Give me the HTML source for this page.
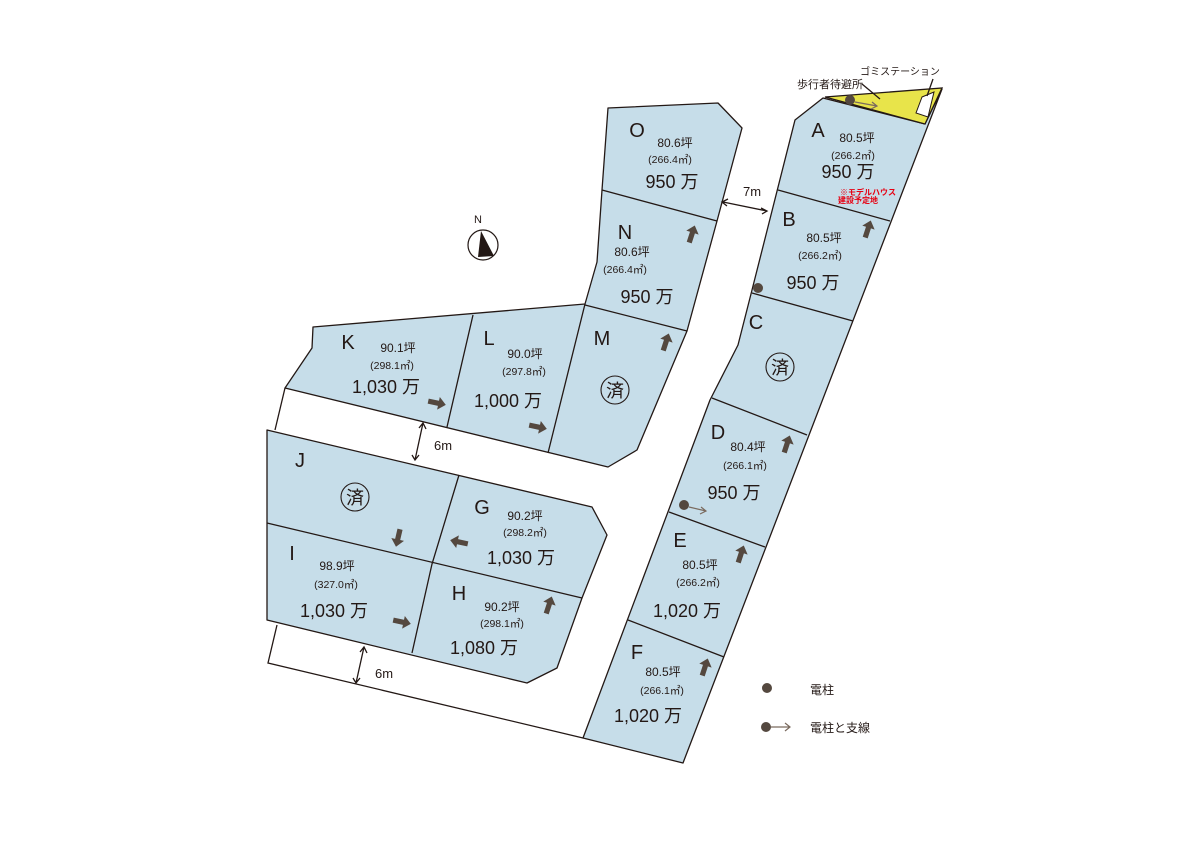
<!DOCTYPE html>
<html><head><meta charset="utf-8"><style>
html,body{margin:0;padding:0;background:#fff;}
svg{display:block;}
text{font-family:"Liberation Sans","Noto Sans CJK JP",sans-serif;fill:#231815;}
.lot{fill:#c6dde9;stroke:#231815;stroke-width:1.3;stroke-linejoin:round;}
.ln{stroke:#231815;stroke-width:1.3;fill:none;}
.L{font-size:20px;text-anchor:middle;}
.t{font-size:12px;text-anchor:middle;}
.s{font-size:10.5px;text-anchor:middle;}
.p{font-size:18px;text-anchor:middle;}
.ar{fill:#54483f;}
</style></head><body>
<svg width="1191" height="842" viewBox="0 0 1191 842" xmlns="http://www.w3.org/2000/svg">
<defs>
<path id="a" d="M-9,-2.6 L1.5,-2.6 L1.5,-6.5 L9,0 L1.5,6.5 L1.5,2.6 L-9,2.6 Z"/>
</defs>

<path class="ln" d="M285,388 L275,430"/>
<path class="ln" d="M277,625 L268,663 L583,738"/>

<path class="lot" d="M608,108 L718,103 L742,128 L717,221 L687,331 L637,450 L608,467 L285,388 L312,348 L313,327 L585,304 L597,262 L602,190 Z"/>
<path class="ln" d="M602,190 L717,221 M585,305 L687,331 M473,315 L447,427 M585,304 L548,453"/>

<path class="lot" d="M267,430 L592,507 L607,535 L582,598 L557,668 L527,683 L267,620 Z"/>
<path class="ln" d="M267,523 L582,598 M459,475 L432,564 L412,653"/>

<path class="lot" d="M795,120 L823,98 L925,124 L942,89 L683,763 L583,738 L710,400 L738,345 L752,290 Z"/>
<path d="M825,97 L942,88 L925,124 Z" fill="#e8e44a" stroke="#231815" stroke-width="1.3"/>
<path d="M922,97 L934,92 L928,117 L916,113 Z" fill="#fff" stroke="#231815" stroke-width="1"/>
<path class="ln" d="M778,190 L890,221 M752,293 L853,321 M712,398 L807,435 M669,512 L765,547 M628,620 L724,657"/>

<text x="830" y="88" style="font-size:11px;text-anchor:middle">歩行者待避所</text>
<path class="ln" d="M862,84 L880,99" stroke-width="0.8"/>
<text x="900" y="75" style="font-size:10px;text-anchor:middle">ゴミステーション</text>
<path class="ln" d="M933,79 L927,96" stroke-width="0.8"/>
<circle cx="850" cy="100" r="5" fill="#54483f"/>
<path d="M855,102 L877,106 M872,102 L877,106 L871,109" stroke="#7a6a5e" stroke-width="1.2" fill="none"/>

<path class="ln" d="M723,202 L767,211 M728,199 L722,202 L727,206 M761,208 L767,211 L762,214" stroke-width="1"/>
<text x="752" y="196" style="font-size:13px;text-anchor:middle">7m</text>
<path class="ln" d="M423,423 L415,460 M419,428 L423,423 L426,429 M412,455 L415,460 L419,455" stroke-width="1"/>
<text x="443" y="450" style="font-size:13px;text-anchor:middle">6m</text>
<path class="ln" d="M364,647 L356,683 M360,652 L364,647 L367,653 M353,678 L356,683 L360,678" stroke-width="1"/>
<text x="384" y="678" style="font-size:13px;text-anchor:middle">6m</text>

<text x="478" y="223" style="font-size:11px;text-anchor:middle">N</text>
<circle cx="483" cy="245" r="15" fill="#fff" stroke="#231815" stroke-width="1.2"/>
<path d="M481,231 L494,256 L478,257 Z" fill="#231815"/>

<text class="L" x="637" y="137">O</text>
<text class="t" x="675" y="147">80.6坪</text>
<text class="s" x="670" y="163">(266.4㎡)</text>
<text class="p" x="672" y="188">950 万</text>
<text class="L" x="625" y="239">N</text>
<text class="t" x="632" y="256">80.6坪</text>
<text class="s" x="625" y="273">(266.4㎡)</text>
<text class="p" x="647" y="303">950 万</text>
<text class="L" x="602" y="345">M</text>
<circle cx="615" cy="390" r="14" fill="none" stroke="#231815" stroke-width="1.1"/>
<text x="615" y="397" style="font-size:18px;text-anchor:middle">済</text>
<text class="L" x="348" y="349">K</text>
<text class="t" x="398" y="352">90.1坪</text>
<text class="s" x="392" y="369">(298.1㎡)</text>
<text class="p" x="386" y="393">1,030 万</text>
<text class="L" x="489" y="345">L</text>
<text class="t" x="525" y="358">90.0坪</text>
<text class="s" x="524" y="375">(297.8㎡)</text>
<text class="p" x="508" y="407">1,000 万</text>
<text class="L" x="300" y="467">J</text>
<circle cx="355" cy="497" r="14" fill="none" stroke="#231815" stroke-width="1.1"/>
<text x="355" y="504" style="font-size:18px;text-anchor:middle">済</text>
<text class="L" x="482" y="514">G</text>
<text class="t" x="525" y="520">90.2坪</text>
<text class="s" x="525" y="536">(298.2㎡)</text>
<text class="p" x="521" y="564">1,030 万</text>
<text class="L" x="292" y="560">I</text>
<text class="t" x="337" y="570">98.9坪</text>
<text class="s" x="336" y="588">(327.0㎡)</text>
<text class="p" x="334" y="617">1,030 万</text>
<text class="L" x="459" y="600">H</text>
<text class="t" x="502" y="611">90.2坪</text>
<text class="s" x="502" y="627">(298.1㎡)</text>
<text class="p" x="484" y="654">1,080 万</text>

<text class="L" x="818" y="137">A</text>
<text class="t" x="857" y="142">80.5坪</text>
<text class="s" x="853" y="159">(266.2㎡)</text>
<text class="p" x="848" y="178">950 万</text>
<text x="868" y="195" style="font-size:8px;text-anchor:middle;fill:#e60012;font-weight:bold;">※モデルハウス</text>
<text x="858" y="203" style="font-size:8px;text-anchor:middle;fill:#e60012;font-weight:bold;">建設予定地</text>
<text class="L" x="789" y="226">B</text>
<text class="t" x="824" y="242">80.5坪</text>
<text class="s" x="820" y="259">(266.2㎡)</text>
<text class="p" x="813" y="289">950 万</text>
<circle cx="758" cy="288" r="5" fill="#54483f"/>
<text class="L" x="756" y="329">C</text>
<circle cx="780" cy="367" r="14" fill="none" stroke="#231815" stroke-width="1.1"/>
<text x="780" y="374" style="font-size:18px;text-anchor:middle">済</text>
<text class="L" x="718" y="439">D</text>
<text class="t" x="748" y="451">80.4坪</text>
<text class="s" x="745" y="469">(266.1㎡)</text>
<text class="p" x="734" y="499">950 万</text>
<circle cx="684" cy="505" r="5" fill="#54483f"/>
<path d="M689,507 L706,511 M701,507 L706,511 L700,514" stroke="#7a6a5e" stroke-width="1.2" fill="none"/>
<text class="L" x="680" y="547">E</text>
<text class="t" x="700" y="569">80.5坪</text>
<text class="s" x="698" y="586">(266.2㎡)</text>
<text class="p" x="687" y="617">1,020 万</text>
<text class="L" x="637" y="659">F</text>
<text class="t" x="663" y="676">80.5坪</text>
<text class="s" x="662" y="694">(266.1㎡)</text>
<text class="p" x="648" y="722">1,020 万</text>

<use href="#a" class="ar" transform="translate(692,234) rotate(-72)"/>
<use href="#a" class="ar" transform="translate(666,342) rotate(-72)"/>
<use href="#a" class="ar" transform="translate(868,229) rotate(-72)"/>
<use href="#a" class="ar" transform="translate(787,444) rotate(-72)"/>
<use href="#a" class="ar" transform="translate(741,554) rotate(-72)"/>
<use href="#a" class="ar" transform="translate(705,667) rotate(-72)"/>
<use href="#a" class="ar" transform="translate(437,403) rotate(12)"/>
<use href="#a" class="ar" transform="translate(538,427) rotate(12)"/>
<use href="#a" class="ar" transform="translate(398,538) rotate(103)"/>
<use href="#a" class="ar" transform="translate(459,542) rotate(192)"/>
<use href="#a" class="ar" transform="translate(402,622) rotate(12)"/>
<use href="#a" class="ar" transform="translate(549,605) rotate(-72)"/>

<circle cx="767" cy="688" r="5" fill="#54483f"/>
<text x="810" y="694" style="font-size:12px;">電柱</text>
<circle cx="766" cy="727" r="5" fill="#54483f"/>
<path d="M771,727 L790,727 M785,723 L790,727 L785,731" stroke="#7a6a5e" stroke-width="1.2" fill="none"/>
<text x="810" y="732" style="font-size:12px;">電柱と支線</text>
</svg>
</body></html>
